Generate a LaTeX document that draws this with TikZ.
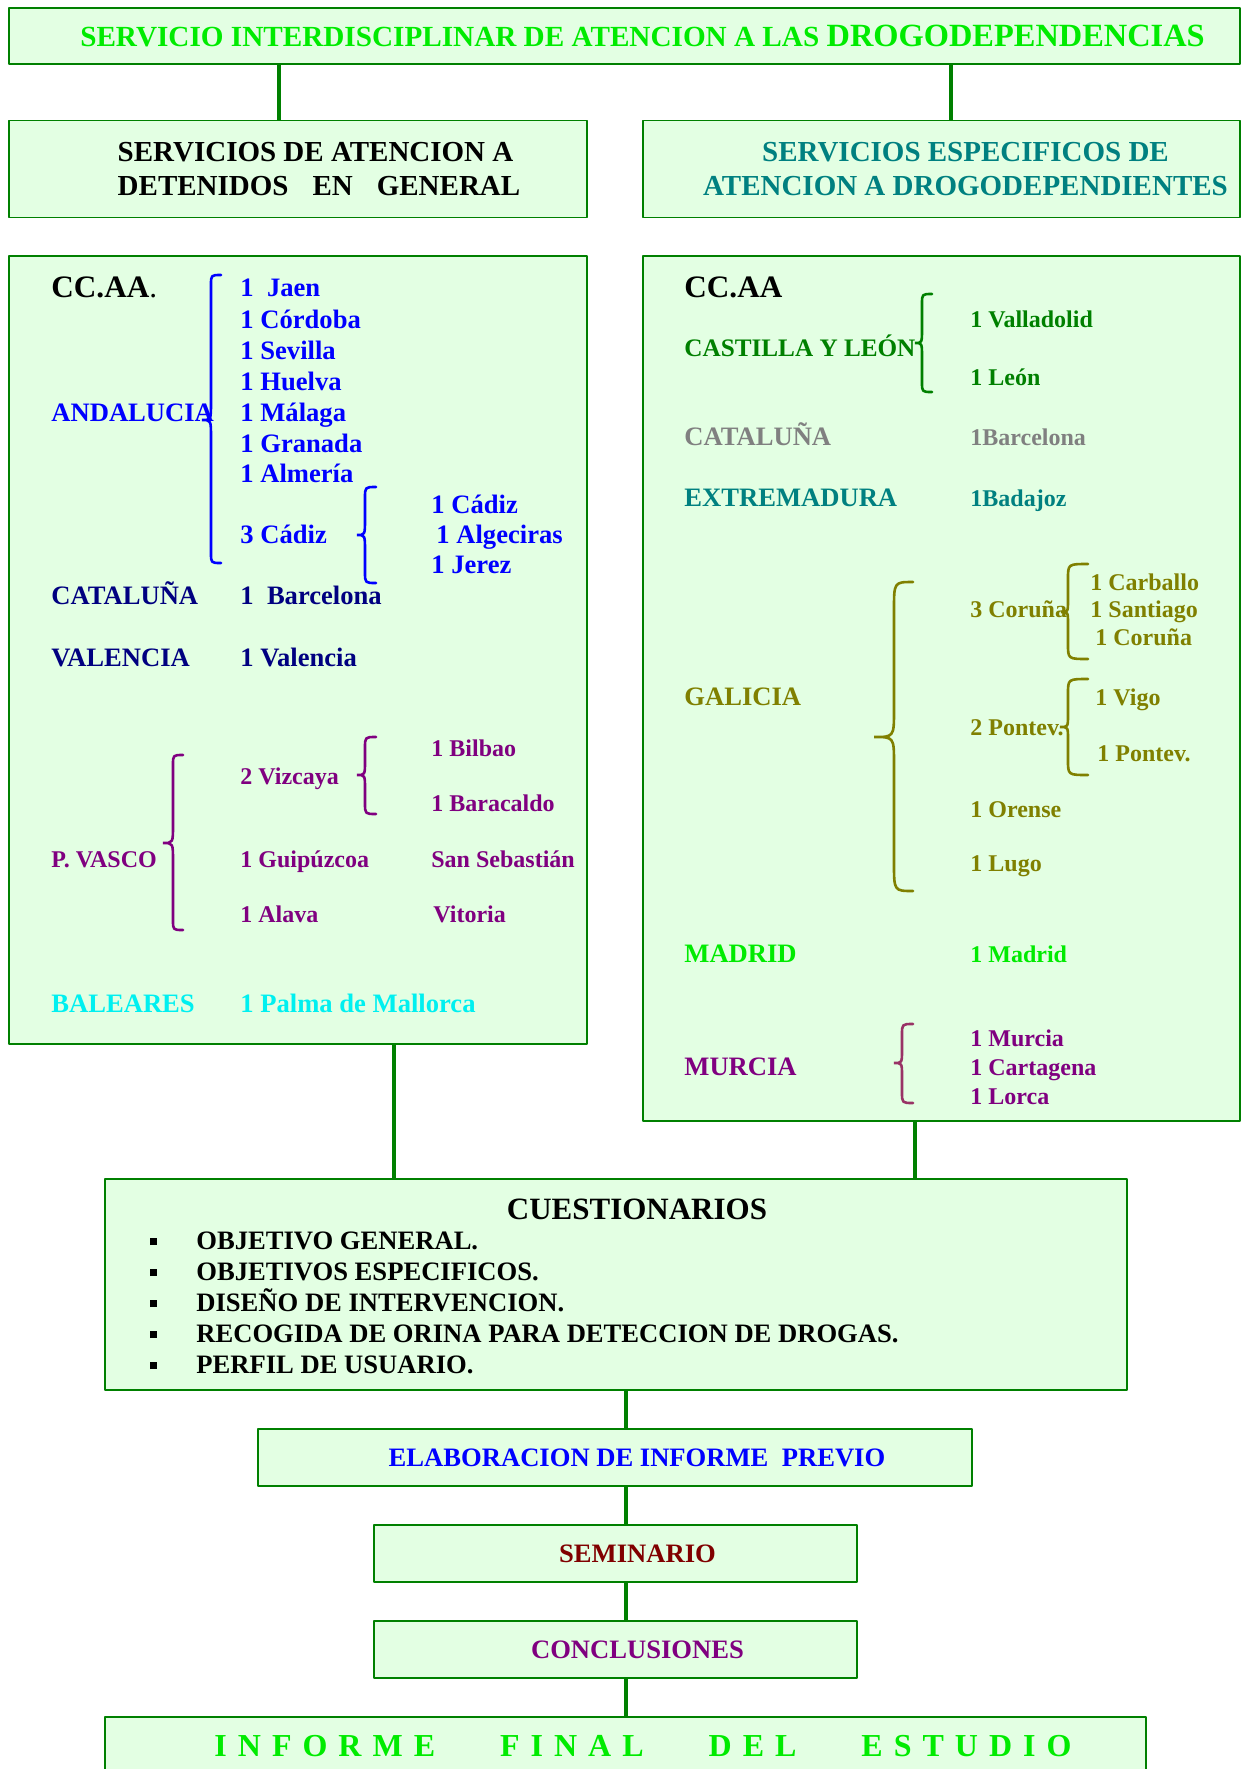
\documentclass[tikz,border=0pt]{standalone}
\usepackage{fontspec}
\setmainfont{Liberation Serif}
\usepackage{tikz}

\definecolor{fondo}{RGB}{227,255,227}
\definecolor{verdeosc}{RGB}{0,128,0}
\definecolor{verdelima}{RGB}{0,235,0}
\definecolor{azulmarino}{RGB}{0,0,128}
\definecolor{turquesa}{RGB}{0,128,128}
\definecolor{oliva}{RGB}{128,128,0}
\definecolor{morado}{RGB}{128,0,128}
\definecolor{ciruela}{RGB}{153,51,102}
\definecolor{granate}{RGB}{128,0,0}
\definecolor{gris}{RGB}{128,128,128}
\definecolor{celeste}{RGB}{0,240,240}
\newcommand{\lsp}{\hspace{5.5pt}}

\begin{document}
\begin{tikzpicture}[x=0.5pt,y=-0.5pt,line join=bevel,
  box/.style={draw=verdeosc,fill=fondo,line width=0.9pt,inner sep=0pt,font=\bfseries\fontsize{13.3}{16}\selectfont},
  pad/.style={execute at begin node={\hspace*{#1}}},
  conn/.style={draw=verdeosc,line width=1.6pt},
  brc/.style={line width=1.3pt,line cap=round},
  txt/.style={anchor=base west,inner sep=0pt,font=\bfseries\fontsize{13.3}{16}\selectfont},
  smtxt/.style={font=\bfseries\fontsize{12}{14}\selectfont},
  bigtxt/.style={font=\bfseries\fontsize{15.6}{18}\selectfont},
]
%%
\useasboundingbox (0,0) rectangle (1246,1769);
\clip (0,0) rectangle (1246,1769);
\node (node_titulo) at (624.5,36) [box,minimum width=615.5pt,minimum height=28pt,text=verdelima,pad=18pt,font=\bfseries\fontsize{14.6}{17}\selectfont] {SERVICIO INTERDISCIPLINAR DE ATENCION A LAS {\fontsize{16.2}{18}\selectfont DROGODEPENDENCIAS}};
  \node (node_detenidos) at (298,169) [box,minimum width=289pt,minimum height=48.5pt,align=left,text=black,font=\bfseries\fontsize{14.5}{17}\selectfont] {\hspace*{21pt}SERVICIOS DE ATENCION A\\\hspace*{21pt}DETENIDOS\hspace{12pt}EN\hspace{12pt}GENERAL};
  \node (node_especificos) at (941.5,169) [box,minimum width=298.5pt,minimum height=48.5pt,align=center,text=turquesa,font=\bfseries\fontsize{14.5}{17}\selectfont] {\hspace*{24pt}SERVICIOS ESPECIFICOS DE\\\hspace*{24pt}ATENCION A DROGODEPENDIENTES};
  \node (node_general) at (298,650) [box,minimum width=289pt,minimum height=394pt] {};
  \node (node_drogas) at (941.5,688.5) [box,minimum width=298.5pt,minimum height=432.5pt] {};
  \node (node_cuestionarios) at (616,1284.5) [box,minimum width=511pt,minimum height=105.5pt] {};
  \node (node_informe) at (615,1457.5) [box,minimum width=357pt,minimum height=28.5pt,text=blue,pad=22pt] {ELABORACION DE INFORME\ \ PREVIO};
  \node (node_seminario) at (615.5,1553.5) [box,minimum width=241.5pt,minimum height=28.5pt,text=granate,pad=22pt] {SEMINARIO};
  \node (node_conclusiones) at (615.5,1649.5) [box,minimum width=241.5pt,minimum height=28.5pt,text=morado,pad=22pt] {CONCLUSIONES};
  \node (node_final) at (625.5,1746.5) [box,minimum width=520.5pt,minimum height=29.5pt,text=verdelima,pad=17.5pt,font=\bfseries\fontsize{16}{18}\selectfont] {I\lsp N\lsp F\lsp O\lsp R\lsp M\lsp E\hspace{32.5pt}F\lsp I\lsp N\lsp A\lsp L\hspace{32.5pt}D\lsp E\lsp L\hspace{32.5pt}E\lsp S\lsp T\lsp U\lsp D\lsp I\lsp O};
%
  \node (node_ccaa_izq) at (51,297) [txt,bigtxt] {CC.AA{\mdseries .}};
  \node (node_andalucia) at (51,421) [txt,blue] {ANDALUCIA};
  \node (node_jaen) at (240,296) [txt,blue] {1\ \ Jaen};
  \node (node_cordoba) at (240,328) [txt,blue] {1 Córdoba};
  \node (node_sevilla) at (240,359) [txt,blue] {1 Sevilla};
  \node (node_huelva) at (240,390) [txt,blue] {1 Huelva};
  \node (node_malaga) at (240,421) [txt,blue] {1 Málaga};
  \node (node_granada) at (240,452) [txt,blue] {1 Granada};
  \node (node_almeria) at (240,482) [txt,blue] {1 Almería};
  \node (node_cadiz_tres) at (240,543) [txt,blue] {3 Cádiz};
  \node (node_cadiz) at (431,513) [txt,blue] {1 Cádiz};
  \node (node_algeciras) at (436,543) [txt,blue] {1 Algeciras};
  \node (node_jerez) at (431,573) [txt,blue] {1 Jerez};
  \node (node_cataluna_izq) at (51,604) [txt,azulmarino] {CATALUÑA};
  \node (node_barcelona_izq) at (240,604) [txt,azulmarino] {1\ \ Barcelona};
  \node (node_valencia_ca) at (51,666) [txt,azulmarino] {VALENCIA};
  \node (node_valencia) at (240,666) [txt,azulmarino] {1 Valencia};
  \node (node_pvasco) at (51,867) [txt,smtxt,morado] {P. VASCO};
  \node (node_vizcaya) at (240,784) [txt,smtxt,morado] {2 Vizcaya};
  \node (node_bilbao) at (431,756) [txt,smtxt,morado] {1 Bilbao};
  \node (node_baracaldo) at (431,811) [txt,smtxt,morado] {1 Baracaldo};
  \node (node_guipuzcoa) at (240,867) [txt,smtxt,morado] {1 Guipúzcoa};
  \node (node_sansebastian) at (431,867) [txt,smtxt,morado] {San Sebastián};
  \node (node_alava) at (240,922) [txt,smtxt,morado] {1 Alava};
  \node (node_vitoria) at (433,922) [txt,smtxt,morado] {Vitoria};
  \node (node_baleares) at (51,1012) [txt,celeste] {BALEARES};
  \node (node_palma) at (240,1012) [txt,celeste] {1 Palma de Mallorca};
%
  \node (node_ccaa_der) at (684,297) [txt,bigtxt] {CC.AA};
  \node (node_castilla) at (684,356) [txt,verdeosc,font=\bfseries\fontsize{12.6}{15}\selectfont] {CASTILLA Y LEÓN};
  \node (node_valladolid) at (970,327) [txt,smtxt,verdeosc] {1 Valladolid};
  \node (node_leon) at (970,385) [txt,smtxt,verdeosc] {1 León};
  \node (node_cataluna_der) at (684,445) [txt,gris] {CATALUÑA};
  \node (node_barcelona_der) at (970,445) [txt,smtxt,gris] {1Barcelona};
  \node (node_extremadura) at (684,506) [txt,turquesa] {EXTREMADURA};
  \node (node_badajoz) at (970,506) [txt,smtxt,turquesa] {1Badajoz};
  \node (node_galicia) at (684,705) [txt,oliva] {GALICIA};
  \node (node_coruna_tres) at (970,617) [txt,smtxt,oliva] {3 Coruña};
  \node (node_carballo) at (1090,590) [txt,smtxt,oliva] {1 Carballo};
  \node (node_santiago) at (1090,617) [txt,smtxt,oliva] {1 Santiago};
  \node (node_coruna) at (1095,645) [txt,smtxt,oliva] {1 Coruña};
  \node (node_pontev_dos) at (970,735) [txt,smtxt,oliva] {2 Pontev.};
  \node (node_vigo) at (1095,705) [txt,smtxt,oliva] {1 Vigo};
  \node (node_pontev) at (1097,761) [txt,smtxt,oliva] {1 Pontev.};
  \node (node_orense) at (970,817) [txt,smtxt,oliva] {1 Orense};
  \node (node_lugo) at (970,871) [txt,smtxt,oliva] {1 Lugo};
  \node (node_madrid_ca) at (684,962) [txt,verdelima] {MADRID};
  \node (node_madrid) at (970,962) [txt,smtxt,verdelima] {1 Madrid};
  \node (node_murcia_ca) at (684,1075) [txt,morado] {MURCIA};
  \node (node_murcia) at (970,1046) [txt,smtxt,morado] {1 Murcia};
  \node (node_cartagena) at (970,1075) [txt,smtxt,morado] {1 Cartagena};
  \node (node_lorca) at (970,1104) [txt,smtxt,morado] {1 Lorca};
%
  \node (node_cuest_titulo) at (637,1219) [anchor=base,inner sep=0pt,font=\bfseries\fontsize{15.5}{18}\selectfont] {CUESTIONARIOS};
  \node (node_obj_general) at (150,1249) [txt] {\rule[2pt]{3.5pt}{3.5pt}\hspace{19.5pt}OBJETIVO GENERAL.};
  \node (node_obj_especificos) at (150,1280) [txt] {\rule[2pt]{3.5pt}{3.5pt}\hspace{19.5pt}OBJETIVOS ESPECIFICOS.};
  \node (node_diseno) at (150,1311) [txt] {\rule[2pt]{3.5pt}{3.5pt}\hspace{19.5pt}DISEÑO DE INTERVENCION.};
  \node (node_orina) at (150,1342) [txt] {\rule[2pt]{3.5pt}{3.5pt}\hspace{19.5pt}RECOGIDA DE ORINA PARA DETECCION DE DROGAS.};
  \node (node_perfil) at (150,1373) [txt] {\rule[2pt]{3.5pt}{3.5pt}\hspace{19.5pt}PERFIL DE USUARIO.};
%
  \draw [brc,blue] (221,275) .. controls (211,275) .. (211,285) -- (211,402) .. controls (211,420) .. (202,420) .. controls (211,420) .. (211,438) -- (211,553) .. controls (211,563) .. (221,563);
  \draw [brc,blue] (376,487) .. controls (365,487) .. (365,498) -- (365,519) .. controls (365,535) .. (357,535) .. controls (365,535) .. (365,551) -- (365,572) .. controls (365,583) .. (376,583);
  \draw [brc,morado] (183,755) .. controls (173,755) .. (173,765) -- (173,825) .. controls (173,843) .. (163,843) .. controls (173,843) .. (173,861) -- (173,920) .. controls (173,930) .. (183,930);
  \draw [brc,morado] (376,737) .. controls (365,737) .. (365,748) -- (365,761) .. controls (365,775) .. (357,775) .. controls (365,775) .. (365,789) -- (365,803) .. controls (365,814) .. (376,814);
  \draw [brc,verdeosc] (932,294) .. controls (922,294) .. (922,304) -- (922,329) .. controls (922,343) .. (915,343) .. controls (922,343) .. (922,357) -- (922,382) .. controls (922,392) .. (932,392);
  \draw [brc,oliva] (1088,564) .. controls (1068,564) .. (1068,579) -- (1068,600) .. controls (1068,612) .. (1061,612) .. controls (1068,612) .. (1068,624) -- (1068,644) .. controls (1068,659) .. (1088,659);
  \draw [brc,oliva] (1088,679) .. controls (1068,679) .. (1068,694) -- (1068,715) .. controls (1068,727) .. (1060,727) .. controls (1068,727) .. (1068,739) -- (1068,760) .. controls (1068,775) .. (1088,775);
  \draw [brc,oliva] (913,582) .. controls (894,582) .. (894,610) -- (894,710) .. controls (894,737) .. (874,737) .. controls (894,737) .. (894,764) -- (894,863) .. controls (894,891) .. (913,891);
  \draw [brc,ciruela] (913,1024) .. controls (902,1024) .. (902,1035) -- (902,1050) .. controls (902,1063) .. (894,1063) .. controls (902,1063) .. (902,1076) -- (902,1092) .. controls (902,1103) .. (913,1103);
%
  \draw [conn] (node_titulo.south -| 279,0) -- (node_detenidos.north -| 279,0);
  \draw [conn] (node_titulo.south -| 951,0) -- (node_especificos.north -| 951,0);
  \draw [conn] (node_general.south -| 394,0) -- (node_cuestionarios.north -| 394,0);
  \draw [conn] (node_drogas.south -| 915,0) -- (node_cuestionarios.north -| 915,0);
  \draw [conn] (node_cuestionarios.south -| 626,0) -- (node_informe.north -| 626,0);
  \draw [conn] (node_informe.south -| 626,0) -- (node_seminario.north -| 626,0);
  \draw [conn] (node_seminario.south -| 626,0) -- (node_conclusiones.north -| 626,0);
  \draw [conn] (node_conclusiones.south -| 626,0) -- (node_final.north -| 626,0);
%
\end{tikzpicture}
\end{document}
